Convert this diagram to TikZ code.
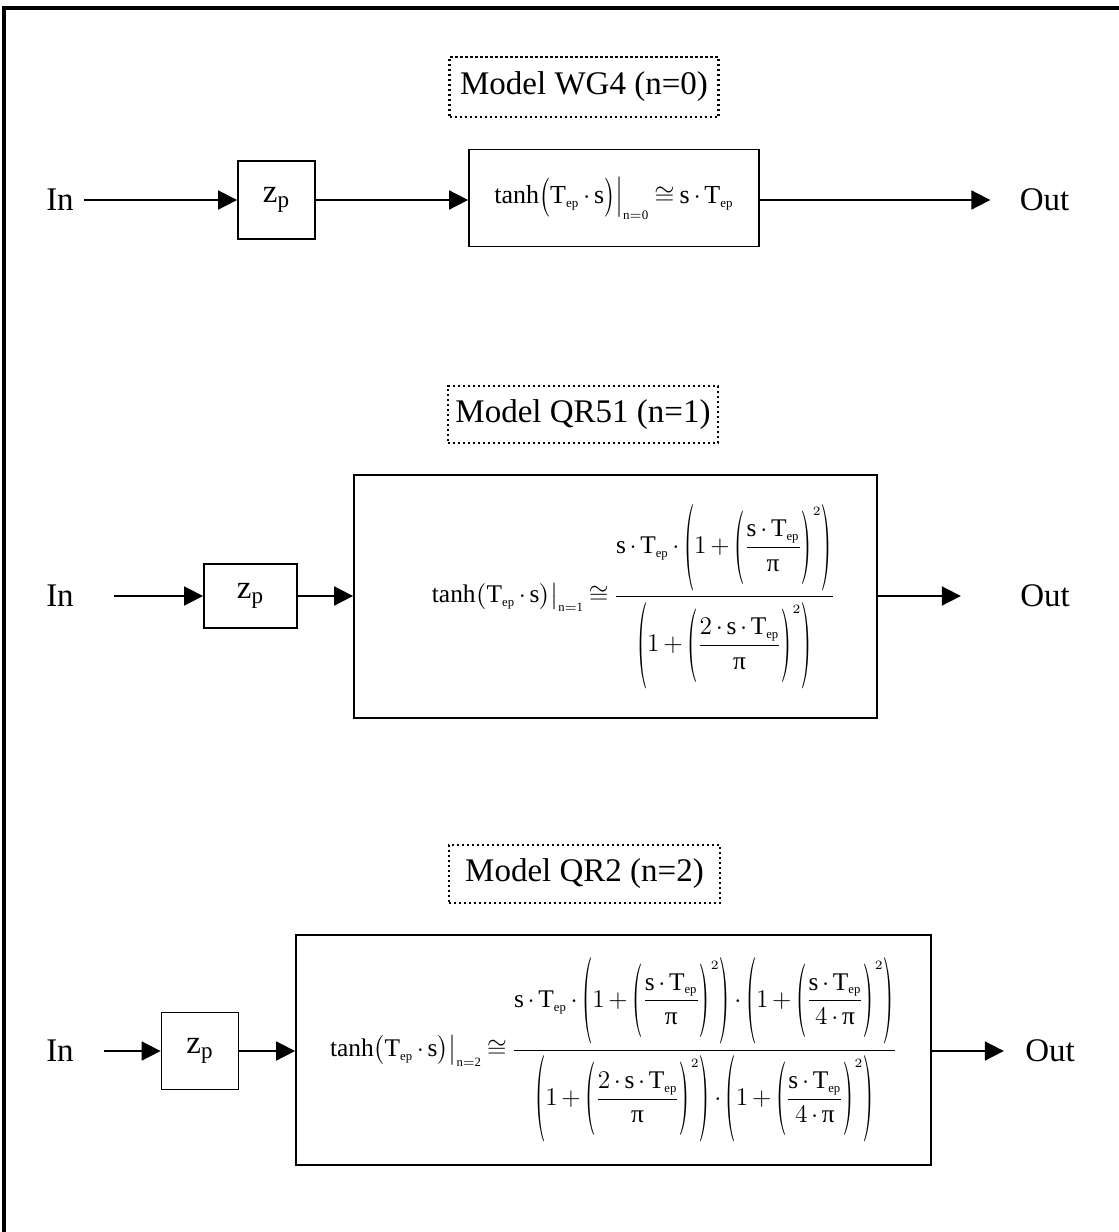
\RequirePackage{fix-cm}
\documentclass[tikz,border=0pt]{standalone}
\usepackage{amsmath}
\usepackage{graphicx}
\usepackage{fontspec}
\setmainfont{Liberation Serif}
\usepackage{tikz}
\usetikzlibrary{arrows.meta, positioning, calc}
\tikzset{
  block/.style={rectangle, draw=black, line width=0.9pt, inner sep=0pt, align=center},
  zblock/.style={block, font=\fontsize{16.5}{20}\selectfont},
  fblock/.style={block, font=\fontsize{12.7}{15}\selectfont},
  hdrbox/.style={rectangle, draw=black, line width=1.1pt, dash pattern=on 1.1pt off 1.4pt,
    inner sep=0pt, font=\fontsize{16.5}{20}\selectfont},
  port/.style={inner sep=0pt, font=\fontsize{16.5}{20}\selectfont},
  arrow/.style={-{Triangle[length=9.5pt,width=9.5pt]}, line width=0.9pt},
  frame/.style={line width=1.6pt}
}
\newcommand{\Tep}{\mathrm{T}_{\scriptscriptstyle\mathrm{ep}}}
\newcommand{\sq}{^{\scriptscriptstyle 2}}
\newcommand{\piup}{\text{π}}
\newcommand{\sT}{\mathrm{s}\cdot\Tep}
\newcommand{\tight}{\thinmuskip=2mu\medmuskip=2.6mu\thickmuskip=3.5mu}
% stretched delimiters
\newcommand{\LP}[1]{\mathopen{\vcenter{\hbox{\scalebox{1}[#1]{$\bigl($}}}}}
\newcommand{\RP}[1]{\mathclose{\vcenter{\hbox{\scalebox{1}[#1]{$\bigr)$}}}}}
\newcommand{\VB}[1]{\mathclose{\vcenter{\hbox{\scalebox{1}[#1]{$\bigr|$}}}}}
\newcommand{\lhs}[2]{\tanh\LP{#2}\Tep\cdot\mathrm{s}\RP{#2}\VB{#2}_{\scriptscriptstyle\mathrm{n=#1}}\cong}
\newcommand{\factor}[2]{\LP{3.0}1+\LP{2.55}\dfrac{#1}{#2}\RP{2.55}\sq\RP{3.0}}

\begin{document}
\begin{tikzpicture}[x=0.5pt, y=-0.5pt]
  \useasboundingbox (0,0) rectangle (1119,1232);
  \draw[frame] (4,1232) -- (4,8) -- (1119,8);

  % Model WG4
  \node[hdrbox, minimum width=134.5pt, minimum height=30pt] (hdr1) at (584,87) {Model WG4 (n=0)};
  \node[port] (in1) at (60,200) {In};
  \node[zblock, minimum width=38.5pt, minimum height=39pt] (zp1) at (276.5,200) {z$_{\mathrm{p}}$};
  \node[fblock, font=\fontsize{13}{16}\selectfont, minimum width=145pt, minimum height=48.5pt] (tf1) at (614,198)
    {$\tight\lhs{0}{1.35}\sT$};
  \node[port] (out1) at (1044.5,200) {Out};

  \draw[arrow, shorten <=5pt] (in1) -- (zp1);
  \draw[arrow] (zp1) -- (zp1 -| tf1.west);
  \draw[arrow, shorten >=14.5pt] (zp1 -| tf1.east) -- (out1);

  % Model QR51
  \node[hdrbox, minimum width=135pt, minimum height=28.5pt] (hdr2) at (583,414.5) {Model QR51 (n=1)};
  \node[port] (in2) at (60,596) {In};
  \node[zblock, minimum width=46.5pt, minimum height=32pt] (zp2) at (250.5,596) {z$_{\mathrm{p}}$};
  \node[fblock, minimum width=261.5pt, minimum height=121.5pt] (tf2) at (615.5,596.5)
    {\hspace*{18pt}$\tight\lhs{1}{0.9}\dfrac{\sT\cdot\factor{\sT}{\piup}}
      {\factor{2\cdot\sT}{\piup}}$};
  \node[port] (out2) at (1045,596) {Out};

  \draw[arrow, shorten <=20pt] (in2) -- (zp2);
  \draw[arrow] (zp2) -- (zp2 -| tf2.west);
  \draw[arrow, shorten >=29.5pt] (zp2 -| tf2.east) -- (out2);

  % Model QR2
  \node[hdrbox, minimum width=135.5pt, minimum height=29pt] (hdr3) at (584.5,874) {Model QR2 (n=2)};
  \node[port] (in3) at (60,1051) {In};
  \node[zblock, minimum width=38.5pt, minimum height=38.5pt] (zp3) at (200,1051) {z$_{\mathrm{p}}$};
  \node[fblock, minimum width=317.5pt, minimum height=115pt] (tf3) at (613.5,1050)
    {$\tight\lhs{2}{1.0}\dfrac{\sT\cdot\factor{\sT}{\piup}\cdot\factor{\sT}{4\cdot\piup}}
      {\factor{2\cdot\sT}{\piup}\cdot\factor{\sT}{4\cdot\piup}}$};
  \node[port] (out3) at (1050,1051) {Out};

  \draw[arrow, shorten <=15pt] (in3) -- (zp3);
  \draw[arrow] (zp3) -- (zp3 -| tf3.west);
  \draw[arrow, shorten >=10.5pt] (zp3 -| tf3.east) -- (out3);
\end{tikzpicture}
\end{document}
